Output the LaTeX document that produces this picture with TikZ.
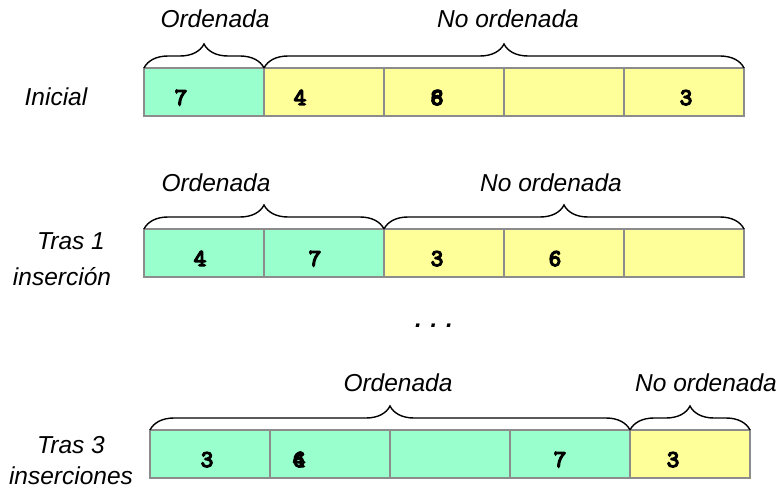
\documentclass[tikz,border=0pt]{standalone}
\usepackage{fontspec}
\setmainfont{Liberation Sans}
\newfontfamily\digitfont[AutoFakeBold=6]{Latin Modern Mono}
\usetikzlibrary{decorations.pathreplacing}
\definecolor{sortedfill}{HTML}{99FFCC}
\definecolor{unsortedfill}{HTML}{FFFF99}
\definecolor{cellborder}{HTML}{8C8C8C}
\tikzset{
  cell/.style={draw=cellborder, line width=1.8pt, minimum width=120pt, minimum height=48pt, inner sep=0pt, outer sep=0pt},
  sorted/.style={cell, fill=sortedfill},
  unsorted/.style={cell, fill=unsortedfill},
  digit/.style={font=\digitfont\bfseries\fontsize{24}{24}\selectfont, inner sep=0pt, anchor=base},
  lbl/.style={font=\itshape\fontsize{24.5}{24.5}\selectfont, inner sep=0pt, anchor=base},
  br/.style={decorate, decoration={brace, amplitude=24pt}, line width=1.4pt},
}
\begin{document}
\begin{tikzpicture}[x=1pt, y=-1pt]
\useasboundingbox (0,0) rectangle (783,489);

% ---- initial state ----
\node[lbl] (ini) at (56,106) {Inicial};
\node[sorted]   (a1) at (204,92) {};
\node[unsorted] (a2) at (324,92) {};
\node[unsorted] (a3) at (444,92) {};
\node[unsorted] (a4) at (564,92) {};
\node[unsorted] (a5) at (684,92) {};
\node[digit] (a1d) at (181,105) {7};
\node[digit] (a2d) at (300,105) {4};
\node[digit] (a3d) at (437,105) {6};
\node[digit] (a3e) at (437,105) {8};
\node[digit] (a5d) at (686,105) {3};
\draw[br] (a1.north west) -- (a1.north east);
\draw[br] (a2.north west) -- (a5.north east);
\node[lbl] (a-ord) at (215,28) {Ordenada};
\node[lbl] (a-no) at (508,28) {No ordenada};

% ---- after one insertion ----
\node[lbl] (t1a) at (71,249) {Tras 1};
\node[lbl] (t1b) at (62,285) {inserción};
\node[sorted]   (b1) at (204,253) {};
\node[sorted]   (b2) at (324,253) {};
\node[unsorted] (b3) at (444,253) {};
\node[unsorted] (b4) at (564,253) {};
\node[unsorted] (b5) at (684,253) {};
\node[digit] (b1d) at (200,266) {4};
\node[digit] (b2d) at (315,266) {7};
\node[digit] (b3d) at (437,266) {3};
\node[digit] (b4d) at (555,266) {6};
\draw[br] (b1.north west) -- (b2.north east);
\draw[br] (b3.north west) -- (b5.north east);
\node[lbl] (b-ord) at (216,191) {Ordenada};
\node[lbl] (b-no) at (551,191) {No ordenada};

% ---- ellipsis ----
\node[font=\bfseries\itshape\fontsize{24}{24}\selectfont, inner sep=0pt, anchor=base] (dots) at (434,327) {. . .};

% ---- after three insertions ----
\node[lbl] (t3a) at (71,453) {Tras 3};
\node[lbl] (t3b) at (71,484) {inserciones};
\node[sorted]   (c1) at (210,454) {};
\node[sorted]   (c2) at (330,454) {};
\node[sorted]   (c3) at (450,454) {};
\node[sorted]   (c4) at (570,454) {};
\node[unsorted] (c5) at (690,454) {};
\node[digit] (c1d) at (207,467) {3};
\node[digit] (c2d) at (299,467) {6};
\node[digit] (c2e) at (299,467) {4};
\node[digit] (c4d) at (560,467) {7};
\node[digit] (c5d) at (673,467) {3};
\draw[br] (c1.north west) -- (c4.north east);
\draw[br] (c5.north west) -- (c5.north east);
\node[lbl] (c-ord) at (398,391) {Ordenada};
\node[lbl] (c-no) at (706,391) {No ordenada};
\end{tikzpicture}
\end{document}
